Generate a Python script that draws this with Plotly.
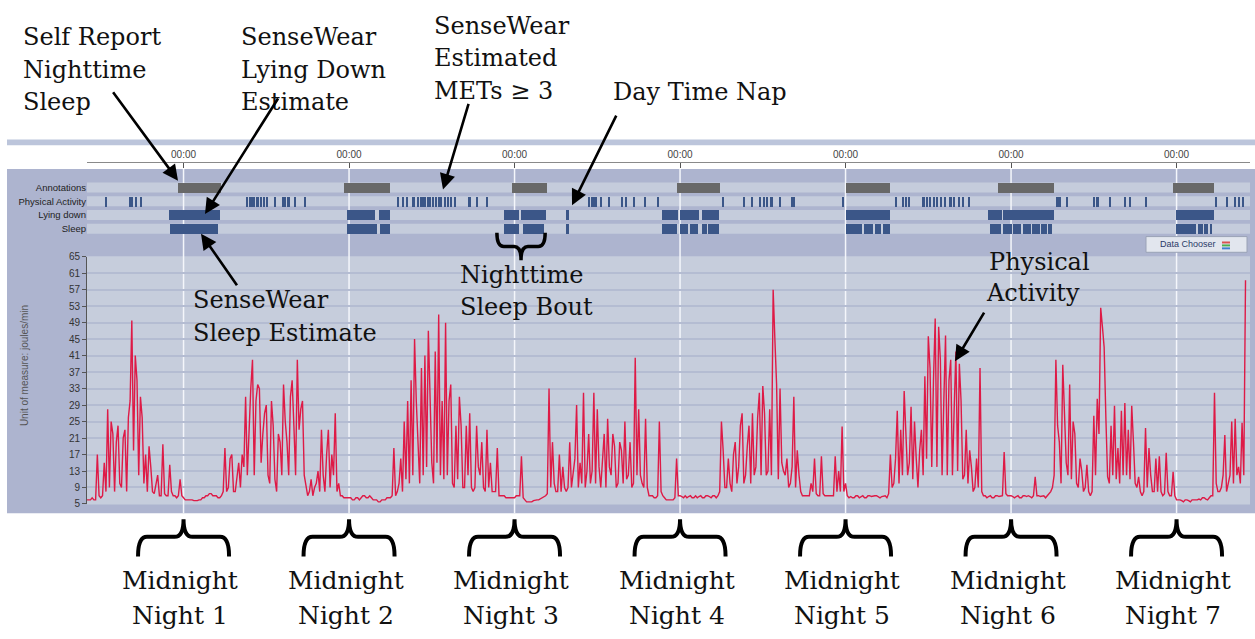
import plotly.graph_objects as go

W, H = 1255, 639


def px(x):
    return x / W


def py(y):
    return 1 - y / H


# ---------------- data ----------------
SAMPLE_STEP_H = 0.5          # hours between main samples (start = 10:00 day 0)
X_MAX_H = 168.65

# energy expenditure (joules/min), one value per half hour
energy_day0 = [6, 6, 6, 17, 6.5, 15, 28, 25, 8, 24, 9, 23, 26, 49.5, 41, 12, 26, 17, 19, 8,
               10, 7, 19.5, 7, 14.5, 7, 6.5, 11]
energy_day1 = [6.5, 6, 6, 5.8, 5.8, 6, 6.5, 7, 7.5, 7, 6.5, 7, 18.6, 9, 17, 8, 15, 17, 31, 25,
               40, 30, 33, 22, 29, 10, 24, 8, 20, 34, 20, 31, 24, 40, 28, 12, 7, 11, 9, 13,
               23, 8, 23, 17, 27, 10, 7, 6.5]
energy_day2 = [6.5, 6, 6.5, 6, 7, 6.5, 7, 6, 6, 5.5, 6, 6.5, 6.5, 18.6, 8, 16, 25, 30, 35, 45,
               20, 38, 41, 47, 15, 42, 51, 30, 49, 30, 10, 24, 31, 9, 24, 27, 8, 24, 12, 9,
               23, 15, 8, 18.6, 7, 7, 6.5, 6.5]
energy_day3 = [6.5, 7, 16.6, 6, 5.5, 5.5, 6, 6, 6.5, 7, 33, 20, 8, 17, 14, 8, 20, 12, 29, 15,
               32, 13, 10, 32, 28, 9, 22, 25.7, 12, 19, 10, 18, 25, 12, 9, 40.5, 28, 10, 25.7, 7,
               7, 6.5, 25, 7, 6, 6, 6, 16]
energy_day4 = [7, 6.5, 6.5, 7, 6.5, 6.5, 7, 6.5, 7, 6.5, 7, 7, 25, 9, 16, 8, 20, 14, 27, 12,
               24, 27, 14, 32, 33.6, 12, 28, 57, 34, 33, 13, 16, 10, 31, 18, 8, 7, 7, 10, 16,
               7, 16.6, 7, 7, 7, 16.6, 13, 23.8]
energy_day5 = [10, 6.5, 6.5, 7, 6.5, 7, 6.5, 7, 7, 7, 6.5, 7, 6.5, 17, 10, 27.6, 23, 32.4, 12, 28.6,
               25, 9, 23, 36, 45.7, 14, 50, 48, 12, 45.9, 35, 12, 42, 39, 11, 23, 18, 8, 16, 38,
               7, 6.5, 7, 6.5, 7, 7, 17.6, 7]
energy_day6 = [7, 6.5, 7, 6.5, 7, 7, 6.5, 11.6, 7, 7, 6.5, 7.5, 9, 40, 20, 38.8, 15, 34, 25, 10,
               16, 8, 14.5, 7, 26.4, 30.5, 52.6, 43, 11.6, 24, 28.8, 18.6, 27.6, 29.5, 23, 28.8, 10, 11.6, 7, 23.4,
               18.6, 8, 16, 16.6, 7, 17.4, 7, 12.8,
               6, 6, 5.5, 6, 5.5, 6, 6, 6, 6.5, 6, 7, 32, 8, 9, 21.7, 10, 25, 25.7, 14, 24.7, 59.3]

# readings a quarter hour after each main sample (between consecutive main samples)
energy_mid_day0 = [6, 6.5, 6, 7, 7, 8, 9, 22, 20, 10, 21, 8, 30, 18, 35, 31, 10, 8, 14, 7.5,
                   12, 7, 7.5, 7, 8, 7, 7, 7]
energy_mid_day1 = [6, 6, 6, 5.8, 6, 6.5, 7, 7.5, 7, 7, 6.5, 8, 8, 16, 8, 12, 9, 14, 12, 33,
                   12, 34, 15, 27, 12, 30, 11, 22, 12, 25, 12, 35, 12, 23, 30, 9, 8, 7, 10, 8,
                   12, 17, 9, 12, 8, 7, 6.5, 6.5]
energy_mid_day2 = [6.5, 6, 6.5, 6.5, 7, 6.5, 6.5, 6, 5.5, 6, 6, 6.5, 7, 7, 10, 8, 11, 10, 12, 30,
                   10, 12, 14, 33, 10, 15, 12, 11, 12, 34, 9, 11, 24, 9, 12, 9, 9, 14, 20, 8,
                   9, 8, 8, 7, 7, 6.5, 6.5, 6.5]
energy_mid_day3 = [7, 7, 6.5, 5.5, 5.5, 5.8, 6, 6.2, 6.8, 7.5, 9, 10, 8, 8, 9, 9, 9, 16, 9, 10,
                   9, 22, 13, 10, 14, 17, 9, 14, 22, 9, 20, 10, 11, 20, 10, 12, 12, 9, 9, 7,
                   6.5, 7, 8, 6.5, 6, 6, 6.5, 7]
energy_mid_day4 = [6.8, 7, 6.8, 6.5, 7, 6.8, 6.5, 7, 6.8, 7, 6.5, 8, 18, 9, 10, 17, 10, 24, 10, 19,
                   10, 12, 26, 12, 27, 13, 12, 45, 11, 15, 12, 9, 14, 9, 12, 7, 7, 7, 8, 7.5,
                   7, 7.5, 7, 7, 7, 8, 8, 8]
energy_mid_day5 = [7, 6.8, 6.5, 7, 6.8, 6.5, 7, 6.8, 7, 6.8, 6.8, 7, 7.5, 9, 16, 10, 12, 22, 15, 11,
                   16, 18, 12, 16, 38, 35, 14, 40, 30, 12, 40, 28, 13, 30, 12, 10, 14, 9, 9, 8,
                   7, 6.8, 6.5, 7, 6.8, 7, 7.5, 7]
energy_mid_day6 = [6.8, 6.8, 6.5, 7, 6.8, 6.8, 7, 7, 6.8, 7, 7, 8, 12, 24, 10, 25, 12, 11, 22, 9,
                   13, 9, 8, 8, 12, 22, 48, 26, 10, 12, 11, 10, 12, 12, 11, 20, 9, 8, 8, 9,
                   12, 8, 8, 8, 7.5, 8, 7, 7,
                   6, 5.8, 6, 5.8, 6, 6, 6.2, 6.5, 6.2, 6.5, 7, 10, 8, 12, 8, 12, 10, 12, 10, 12]

energy_main = (energy_day0 + energy_day1 + energy_day2 + energy_day3 +
               energy_day4 + energy_day5 + energy_day6)
energy_mid = (energy_mid_day0 + energy_mid_day1 + energy_mid_day2 + energy_mid_day3 +
              energy_mid_day4 + energy_mid_day5 + energy_mid_day6)

# interleave main and quarter-hour readings into one time-ordered series
t_hours, energy = [], []
for i, v in enumerate(energy_main):
    t_hours.append(i * SAMPLE_STEP_H)
    energy.append(v)
    if i < len(energy_mid):
        t_hours.append(i * SAMPLE_STEP_H + SAMPLE_STEP_H / 2)
        energy.append(energy_mid[i])

midnights = [14, 38, 62, 86, 110, 134, 158]
night_labels = ["Night 1", "Night 2", "Night 3", "Night 4", "Night 5", "Night 6", "Night 7"]
y_ticks = [5, 9, 13, 17, 21, 25, 29, 33, 37, 41, 45, 49, 53, 57, 61, 65]
track_names = ["Annotations", "Physical Activity", "Lying down", "Sleep"]

# bouts [start_hour, end_hour]
annotation_bouts = [[13.2, 19.4], [37.3, 44.0], [61.6, 66.7], [85.5, 91.8],
                    [110.0, 116.5], [132.1, 140.2], [157.5, 163.5]]
lying_bouts = [[11.9, 19.3], [37.7, 41.8], [42.3, 44.0], [60.4, 62.7], [62.9, 66.5],
               [69.5, 69.9], [83.4, 85.7], [86.0, 88.8], [89.2, 91.7], [110.0, 116.5],
               [130.6, 132.7], [132.9, 140.2], [157.9, 163.5]]
sleep_bouts = [[12.1, 19.0], [37.7, 42.1], [42.5, 43.9], [60.5, 62.7], [63.2, 66.3],
               [69.4, 69.9], [83.4, 85.6], [86.0, 87.1], [87.4, 88.6], [89.2, 89.9],
               [90.1, 91.6], [110.0, 112.4], [112.7, 114.0], [114.3, 115.2], [115.5, 116.4],
               [131.0, 132.6], [132.9, 134.1], [134.3, 135.5], [135.8, 136.9], [137.1, 138.2],
               [138.4, 139.2], [139.4, 140.0], [157.9, 160.8], [161.1, 161.8], [162.0, 162.5],
               [162.8, 163.2]]
activity_bouts = [[2.7, 2.95], [6.13, 6.32], [6.5, 6.71], [6.96, 7.18], [7.73, 7.97],
                  [23.06, 23.39], [23.56, 24.36], [24.51, 24.87], [25.04, 25.33], [25.62, 25.81],
                  [26.1, 26.29], [27.19, 27.38], [28.23, 28.79], [28.93, 29.44], [30.09, 30.28],
                  [31.54, 31.73], [45.06, 45.25], [45.64, 46.0], [46.4, 46.59], [47.08, 47.56],
                  [47.9, 48.14], [48.29, 49.16], [49.31, 49.89], [50.1, 50.32], [50.54, 50.76],
                  [50.97, 51.44], [51.84, 52.03], [52.24, 52.42], [52.64, 52.83], [53.29, 53.48],
                  [55.21, 55.64], [56.51, 56.7], [57.96, 58.15], [72.77, 72.94], [73.09, 73.27],
                  [73.42, 73.61], [73.74, 73.93], [74.47, 74.66], [75.63, 75.81], [77.44, 77.62],
                  [78.09, 78.28], [79.25, 79.44], [80.84, 81.03], [82.69, 82.88], [92.11, 92.3],
                  [95.13, 95.32], [96.36, 96.55], [97.52, 97.81], [98.03, 98.39], [98.54, 98.75],
                  [99.05, 99.52], [100.42, 100.61], [102.09, 102.28], [102.5, 102.67], [109.59, 109.78],
                  [117.24, 117.43], [118.29, 118.48], [118.69, 118.88], [119.16, 119.35], [121.19, 121.45],
                  [121.67, 121.96], [122.17, 122.39], [122.61, 122.9], [123.12, 123.31], [123.7, 123.89],
                  [124.32, 124.51], [125.07, 125.44], [125.58, 125.87], [126.38, 126.57], [126.99, 127.18],
                  [127.83, 128.02], [140.66, 140.88], [141.0, 141.18], [142.01, 142.2], [145.88, 146.17],
                  [146.32, 146.68], [148.28, 148.47], [150.45, 150.64], [151.18, 151.37], [153.5, 153.69],
                  [163.65, 163.84], [165.2, 165.39], [166.4, 166.59], [167.03, 167.22], [167.61, 167.8]]

# ---------------- colours ----------------
RED = "#de1a46"
BAR_BLUE = "#3b5688"
ANNO_GRAY = "#686868"
PANEL = "#adb4cf"
PLOT_BG = "#c6cddc"
STRIP = "#c5ccdc"
GRID = "#b4bcd2"

fig = go.Figure()

fig.add_trace(go.Scatter(x=t_hours, y=energy, mode="lines", xaxis="x", yaxis="y",
                         line=dict(color=RED, width=1.4), hoverinfo="skip", showlegend=False))


def track_bar(bouts, row, color):
    return go.Bar(y=[row] * len(bouts), x=[e - s for s, e in bouts], base=[s for s, _ in bouts],
                  orientation="h", width=0.72, xaxis="x", yaxis="y2",
                  marker=dict(color=color, line=dict(width=0)), hoverinfo="skip", showlegend=False)


fig.add_trace(track_bar(annotation_bouts, 0, ANNO_GRAY))
fig.add_trace(track_bar(activity_bouts, 1, BAR_BLUE))
fig.add_trace(track_bar(lying_bouts, 2, BAR_BLUE))
fig.add_trace(track_bar(sleep_bouts, 3, BAR_BLUE))

# carrier trace for the top time axis
fig.add_trace(go.Scatter(x=[0, X_MAX_H], y=[5, 5], xaxis="x2", yaxis="y", mode="lines",
                         line=dict(width=0), opacity=0, hoverinfo="skip", showlegend=False))

shapes = []
# top decorative band
shapes.append(dict(type="rect", xref="paper", yref="paper", x0=px(7), x1=1, y0=py(142), y1=py(136),
                   fillcolor="#bcc5db", line=dict(width=0), layer="below"))
# lavender panel
shapes.append(dict(type="rect", xref="paper", yref="paper", x0=px(7), x1=1, y0=py(517), y1=py(166),
                   fillcolor=PANEL, line=dict(width=0), layer="below"))
# plot area
shapes.append(dict(type="rect", xref="paper", yref="paper", x0=px(87), x1=px(1250), y0=py(508), y1=py(255),
                   fillcolor=PLOT_BG, line=dict(width=0), layer="below"))
# track strips
for r in range(4):
    yc = 185 + 14 * r
    shapes.append(dict(type="rect", xref="paper", yref="paper", x0=px(87), x1=px(1250),
                       y0=py(yc + 5), y1=py(yc - 5), fillcolor=STRIP, line=dict(width=0), layer="below"))
# midnight lines
for m in midnights:
    shapes.append(dict(type="line", xref="x", yref="paper", x0=m, x1=m, y0=py(517), y1=py(166),
                       line=dict(color="#f4f6fb", width=1.5), layer="below"))


def brace_path(cx, half, r, y_end, y_bar, y_tip):
    a, b, c = py(y_end), py(y_bar), py(y_tip)
    x0, x1 = cx - half, cx + half
    return (f"M {x0},{a} Q {x0},{b} {x0 + r},{b} L {cx - r},{b} "
            f"Q {cx},{b} {cx},{c} Q {cx},{b} {cx + r},{b} "
            f"L {x1 - r},{b} Q {x1},{b} {x1},{a}")


for m in midnights:
    shapes.append(dict(type="path", xref="x", yref="paper",
                       path=brace_path(m, 6.6, 1.3, 561, 541, 523),
                       line=dict(color="black", width=4)))
# nighttime sleep bout brace
shapes.append(dict(type="path", xref="x", yref="paper",
                   path=brace_path(62.94, 3.5, 1.0, 231, 245, 259),
                   line=dict(color="black", width=3.5)))

# Data Chooser button
shapes.append(dict(type="rect", xref="paper", yref="paper", x0=px(1146), x1=px(1247), y0=py(251), y1=py(235),
                   fillcolor="#e2e6ee", line=dict(color="#9aa2b6", width=1)))
for k, col in enumerate(["#d9534f", "#4caf50", "#3f7fd0"]):
    shapes.append(dict(type="rect", xref="paper", yref="paper", x0=px(1222), x1=px(1230),
                       y0=py(240 + 3 * k + 2), y1=py(240 + 3 * k), fillcolor=col, line=dict(width=0)))

annotations = []
SERIF = "DejaVu Serif"


def label(text, x, y, size=24, anchor="left"):
    annotations.append(dict(text=text, x=px(x), y=py(y), xref="paper", yref="paper",
                            xanchor=anchor, yanchor="middle", showarrow=False,
                            font=dict(family=SERIF, size=size, color="#111")))


for txt, yy in [("Self Report", 32), ("Nighttime", 65), ("Sleep", 98)]:
    label(txt, 21, yy)
for txt, yy in [("SenseWear", 32), ("Lying Down", 65), ("Estimate", 98)]:
    label(txt, 239, yy)
for txt, yy in [("SenseWear", 20), ("Estimated", 53), ("METs ≥ 3", 87)]:
    label(txt, 432, yy)
label("Day Time Nap", 611, 88)
for txt, yy in [("SenseWear", 300), ("Sleep Estimate", 333)]:
    label(txt, 191, yy)
for txt, yy in [("Nighttime", 274), ("Sleep Bout", 307)]:
    label(txt, 458, yy)
label("Physical", 987, 261)
label("Activity", 984, 293)

# Midnight labels, centred under each midnight (x in data coords)
for m, nl in zip(midnights, night_labels):
    for txt, yy in [("Midnight", 586), (nl, 621)]:
        annotations.append(dict(text=txt, x=m - 0.5, y=py(yy), xref="x", yref="paper",
                                xanchor="center", yanchor="middle", showarrow=False,
                                font=dict(family=SERIF, size=25, color="#111")))


def arrow(tail, head):
    annotations.append(dict(text="", x=px(head[0]), y=py(head[1]), xref="paper", yref="paper",
                            ax=tail[0] - head[0], ay=tail[1] - head[1], showarrow=True,
                            arrowhead=2, arrowsize=1.2, arrowwidth=2.6, arrowcolor="black",
                            standoff=0, startstandoff=0))


arrow((112, 88), (178, 178))
arrow((279, 95), (205, 212))
arrow((469, 100), (443, 187))
arrow((617, 112), (572, 203))
arrow((238, 285), (201, 232))
arrow((985, 312), (955, 362))

# y-axis title and data chooser text
annotations.append(dict(text="Unit of measure: joules/min", x=px(24), y=py(367), xref="paper", yref="paper",
                        textangle=-90, showarrow=False, xanchor="center", yanchor="middle",
                        font=dict(family="Liberation Sans", size=10, color="#555")))
annotations.append(dict(text="Data Chooser", x=px(1188), y=py(243), xref="paper", yref="paper",
                        showarrow=False, xanchor="center", yanchor="middle",
                        font=dict(family="Liberation Sans", size=9, color="#2b3a68")))

fig.update_layout(
    width=W, height=639, margin=dict(l=0, r=0, t=0, b=0),
    paper_bgcolor="white", plot_bgcolor="rgba(0,0,0,0)",
    showlegend=False, barmode="overlay", bargap=0,
    xaxis=dict(domain=[px(87), px(1250)], range=[0, X_MAX_H], visible=False, anchor="y", fixedrange=True),
    xaxis2=dict(overlaying="x", range=[0, X_MAX_H], side="top", anchor="free", position=py(159),
                tickvals=midnights, ticktext=["00:00"] * len(midnights), ticks="inside", ticklen=5,
                tickcolor="#555", showline=True, linecolor="#8a8a8a", linewidth=1, showgrid=False,
                zeroline=False, tickfont=dict(family="Liberation Sans", size=10, color="#444")),
    yaxis=dict(domain=[py(507.5), py(255.5)], range=[5, 65], tickvals=y_ticks, ticks="outside",
               ticklen=4, tickcolor="#555", showline=True, linecolor="#555", linewidth=1,
               gridcolor=GRID, gridwidth=1.5, zeroline=False, anchor="x",
               tickfont=dict(family="Liberation Sans", size=10, color="#333")),
    yaxis2=dict(domain=[py(234), py(178)], range=[3.5, -0.5], anchor="x", tickvals=[0, 1, 2, 3],
                ticktext=track_names, ticks="", showgrid=False, zeroline=False, showline=False,
                tickfont=dict(family="Liberation Sans", size=9.5, color="#222")),
    shapes=shapes, annotations=annotations,
)

fig.write_html("out.html")
